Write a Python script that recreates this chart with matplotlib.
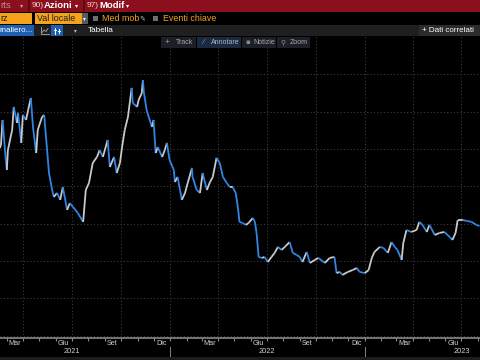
import matplotlib
matplotlib.use("Agg")
import numpy as np
import pandas as pd
import matplotlib.pyplot as plt
import matplotlib.dates as mdates
import matplotlib.transforms as mtransforms
from matplotlib.collections import LineCollection
from matplotlib.lines import Line2D
from matplotlib.patches import Rectangle

dates = [
    "2021-02-16", "2021-02-18", "2021-02-21", "2021-02-26", "2021-03-01", "2021-03-03",
    "2021-03-11", "2021-03-14", "2021-03-20", "2021-03-22", "2021-03-28", "2021-03-31",
    "2021-04-06", "2021-04-10", "2021-04-15", "2021-04-19", "2021-04-25", "2021-04-28",
    "2021-05-06", "2021-05-10", "2021-05-15", "2021-05-19", "2021-05-25", "2021-05-28",
    "2021-06-03", "2021-06-09", "2021-06-14", "2021-06-22", "2021-06-27", "2021-07-03",
    "2021-07-12", "2021-07-22", "2021-07-27", "2021-08-02", "2021-08-09", "2021-08-17",
    "2021-08-22", "2021-08-28", "2021-09-06", "2021-09-10", "2021-09-18", "2021-09-23",
    "2021-09-29", "2021-10-03", "2021-10-08", "2021-10-14", "2021-10-21", "2021-10-23",
    "2021-10-31", "2021-11-03", "2021-11-09", "2021-11-11", "2021-11-13", "2021-11-18",
    "2021-11-22", "2021-11-28", "2021-12-01", "2021-12-05", "2021-12-09", "2021-12-17",
    "2021-12-22", "2021-12-26", "2021-12-31", "2022-01-08", "2022-01-10", "2022-01-15",
    "2022-01-23", "2022-01-29", "2022-02-03", "2022-02-11", "2022-02-12", "2022-02-20",
    "2022-02-26", "2022-03-03", "2022-03-11", "2022-03-16", "2022-03-22", "2022-03-29",
    "2022-04-04", "2022-04-10", "2022-04-17", "2022-04-23", "2022-04-28", "2022-05-04",
    "2022-05-08", "2022-05-11", "2022-05-17", "2022-05-23", "2022-05-28", "2022-06-05",
    "2022-06-09", "2022-06-12", "2022-06-16", "2022-06-22", "2022-06-27", "2022-07-03",
    "2022-07-10", "2022-07-16", "2022-07-22", "2022-07-29", "2022-08-04", "2022-08-13",
    "2022-08-19", "2022-08-26", "2022-09-01", "2022-09-06", "2022-09-14", "2022-09-20",
    "2022-09-29", "2022-10-06", "2022-10-18", "2022-10-27", "2022-11-05", "2022-11-09",
    "2022-11-15", "2022-11-20", "2022-11-30", "2022-12-09", "2022-12-17", "2022-12-22",
    "2023-01-01", "2023-01-08", "2023-01-14", "2023-01-19", "2023-01-29", "2023-02-05",
    "2023-02-13", "2023-02-20", "2023-02-26", "2023-03-03", "2023-03-11", "2023-03-14",
    "2023-03-20", "2023-03-29", "2023-04-08", "2023-04-13", "2023-04-19", "2023-04-27",
    "2023-05-02", "2023-05-12", "2023-05-21", "2023-05-30", "2023-06-09", "2023-06-14",
    "2023-06-20", "2023-06-24", "2023-07-03", "2023-07-12", "2023-07-20", "2023-07-29",
    "2023-08-04",
]
prices = [
    20.05, 20.21, 21.55, 19.78, 18.87, 19.94,
    21.02, 22.25, 21.39, 21.93, 20.32, 21.82,
    21.55, 22.09, 22.73, 21.18, 19.78, 21.02,
    21.71, 21.82, 20.10, 18.71, 17.80, 17.43,
    17.64, 17.27, 17.96, 16.73, 17.10, 16.89,
    16.57, 16.09, 17.80, 18.18, 19.25, 19.57,
    19.94, 19.57, 20.48, 19.03, 19.57, 18.71,
    19.25, 20.10, 21.02, 21.71, 23.27, 22.46,
    22.25, 22.62, 23.00, 23.69, 23.00, 22.09,
    21.71, 21.18, 21.55, 19.78, 20.10, 19.57,
    19.94, 20.32, 19.41, 18.87, 18.23, 18.50,
    17.27, 17.64, 18.18, 18.98, 18.50, 17.80,
    17.64, 18.71, 17.80, 18.18, 18.50, 19.52,
    19.25, 18.50, 18.18, 17.96, 17.96, 17.64,
    16.89, 16.09, 16.03, 15.93, 16.03, 16.30,
    16.09, 15.50, 14.21, 14.16, 14.21, 13.94,
    14.21, 14.43, 14.75, 14.59, 14.75, 15.01,
    14.43, 14.32, 14.21, 13.94, 14.48, 13.89,
    14.05, 14.16, 13.89, 14.16, 14.21, 13.35,
    13.41, 13.25, 13.41, 13.51, 13.62, 13.41,
    13.35, 13.51, 14.16, 14.48, 14.75, 14.69,
    14.43, 15.01, 14.75, 14.59, 14.05, 14.96,
    15.66, 15.55, 15.66, 16.09, 15.93, 15.55,
    15.93, 15.39, 15.50, 15.55, 15.28, 15.12,
    15.50, 16.19, 16.19, 16.14, 16.09, 15.93,
    15.87,
]

month_tick_dates = ["2021-03-16", "2021-06-15", "2021-09-15", "2021-12-16", "2022-03-16",
                    "2022-06-15", "2022-09-15", "2022-12-16", "2023-03-16", "2023-06-15"]
month_names = ["Mar", "Giu", "Set", "Dic", "Mar", "Giu", "Set", "Dic", "Mar", "Giu"]
year_dates = ["2021-07-01", "2022-07-01", "2023-07-01"]
year_names = ["2021", "2022", "2023"]
grid_dates = ["2021-04-01", "2021-07-01", "2021-10-01", "2022-01-01", "2022-04-01",
              "2022-07-01", "2022-10-01", "2023-01-01", "2023-04-01", "2023-07-01"]
year_breaks = ["2022-01-01", "2023-01-01"]
price_grid = [10, 12, 14, 16, 18, 20, 22, 24]

plt.rcParams['font.family'] = ['Liberation Sans', 'DejaVu Sans']

W, H = 480, 360
fig = plt.figure(figsize=(4.8, 3.6), dpi=100, facecolor='black')


def box(x, y, w, h, color):
    fig.patches.append(Rectangle((x / W, 1 - (y + h) / H), w / W, h / H,
                                 transform=fig.transFigure, facecolor=color,
                                 edgecolor='none', lw=0))


def txt(x, y, s, color='white', size=6, **kw):
    fig.text(x / W, 1 - y / H, s, color=color, fontsize=size, va='center',
             ha=kw.pop('ha', 'left'), **kw)


def fline(xs, ys, color, lw=0.8):
    fig.lines.append(Line2D([v / W for v in xs], [1 - v / H for v in ys],
                            transform=fig.transFigure, color=color, lw=lw))


# header rows
box(0, 0, 480, 11.5, '#8b0f1c')
box(0, 11.5, 480, 13.5, 'black')
box(0, 25, 480, 11, '#1f1f1f')
box(28, 0, 2, 11.5, '#5e0a13')
box(83, 0, 2, 11.5, '#5e0a13')
txt(0, 5.8, 'rts', color='#c98a92', size=6.8)
txt(20, 5.8, '▾', color='#d9a0a6', size=4.5, family='DejaVu Sans')
txt(32, 5.8, '90)', color='#f0d0d0', size=6)
txt(44, 5.8, 'Azioni', color='white', size=6.8, weight='bold')
txt(75, 5.8, '▾', color='white', size=4.5, family='DejaVu Sans')
txt(87, 5.8, '97)', color='#f0d0d0', size=6)
txt(99, 5.8, 'Modif', color='white', size=6.8, weight='bold')
txt(126, 5.8, '▾', color='white', size=4.5, family='DejaVu Sans')

amber = '#f7a21b'
box(0, 13.5, 32, 10, amber)
txt(0.5, 18.5, 'rz', color='#1a1a1a', size=6.4)
box(35, 13.5, 47, 10, amber)
txt(37, 18.5, 'Val locale', color='#1a1a1a', size=6.4)
box(82, 13.5, 6, 10, '#5a5a5a')
txt(82.8, 18.5, '▾', color='white', size=4, family='DejaVu Sans')
box(93, 16, 5, 5, '#6e6e6e')
txt(102.5, 18.5, 'Med mob', color=amber, size=6.4)
txt(139.5, 18.5, '✎', color='#bdbdbd', size=5, family='DejaVu Sans')
box(153, 16, 5, 5, '#6e6e6e')
txt(163, 18.5, 'Eventi chiave', color=amber, size=6.4)

box(0, 25.5, 34, 10, '#1f5fb0')
txt(0, 30.5, 'rnaliero...', color='white', size=5.8)
# small line-chart icon
fline([41, 41, 49], [27, 34, 34], '#a8a8a8', 0.6)
fline([42, 44, 46, 48], [32.5, 30, 31.5, 28.5], '#a8a8a8', 0.6)
box(51, 25.5, 12, 10, '#1f5fb0')
fline([55, 55], [27.5, 33.5], 'white', 0.7)
fline([59, 59], [28.5, 32.5], 'white', 0.7)
fline([54, 56], [30, 30], 'white', 0.7)
fline([58, 60], [31, 31], 'white', 0.7)
txt(74, 30.5, '▾', color='#bdbdbd', size=4, family='DejaVu Sans')
txt(88, 30.5, 'Tabella', color='white', size=5.9)
box(419, 25.5, 61, 10, '#2c2c2c')
txt(422, 30.5, '+ Dati correlati', color='white', size=5.8)

# main axes
ax = fig.add_axes([0, (H - 338) / H, 1, (338 - 36) / H])
ax.set_facecolor('black')

d = pd.to_datetime(dates)
x = mdates.date2num(d)
y = np.array(prices)
segs = np.stack([np.column_stack([x[:-1], y[:-1]]), np.column_stack([x[1:], y[1:]])], axis=1)
cols = np.where(np.diff(y) >= 0, '#c9c9c9', '#2f86e6')
ax.add_collection(LineCollection(segs, colors=cols, linewidths=1.3, zorder=3))

ax.set_xlim(pd.Timestamp('2021-02-16 05:00'), pd.Timestamp('2023-08-04 19:00'))
ax.set_ylim(9.87, 26.05)

for gd in pd.to_datetime(grid_dates):
    ax.axvline(gd, color='#3c3c3c', lw=0.8, ls=(0, (1, 2)), zorder=1)
for p in price_grid:
    ax.axhline(p, color='#3c3c3c', lw=0.8, ls=(0, (1, 2)), zorder=1)

for s in ['top', 'right', 'left']:
    ax.spines[s].set_visible(False)
ax.spines['bottom'].set_color('#8a8a8a')
ax.spines['bottom'].set_linewidth(1.2)
ax.set_yticks([])

ax.set_xticks(pd.to_datetime(month_tick_dates))
ax.set_xticklabels(month_names)
ax.tick_params(axis='x', which='major', length=0, pad=1.2, labelsize=5.2, labelcolor='#d0d0d0')
ax.set_xticks(pd.date_range('2021-03-01', '2023-08-01', freq='MS'), minor=True)
ax.tick_params(axis='x', which='minor', length=2, width=0.8, color='#8a8a8a', direction='out')

tr = mtransforms.blended_transform_factory(ax.transData, ax.transAxes)
for yd, yn in zip(pd.to_datetime(year_dates), year_names):
    ax.text(yd, -13.5 / 302, yn, transform=tr, color='#d0d0d0', fontsize=5.3,
            ha='center', va='center', clip_on=False)
for yb in pd.to_datetime(year_breaks):
    ax.plot([yb, yb], [-9 / 302, -18 / 302], transform=tr, color='#7a7a7a',
            lw=0.8, clip_on=False)

# in-plot toolbar
box(161, 37, 35, 11, '#1d1f26')
txt(165, 42.5, '+', color='#a8a8a8', size=6)
txt(176, 42.5, 'Track', color='#a8a8a8', size=5)
box(197, 37, 44, 11, '#1a2a40')
txt(202, 42.5, '⁄', color='#a8a8a8', size=5, family='DejaVu Sans')
txt(211, 42.5, 'Annotare', color='#b8b8b8', size=5)
box(242, 37, 34, 11, '#1d1f26')
txt(245, 42.5, '▪', color='#8a8a8a', size=5, family='DejaVu Sans')
txt(253, 42.5, 'Notizie', color='#a8a8a8', size=5)
box(277, 37, 33, 11, '#1d1f26')
txt(280, 42.5, '⚲', color='#8a8a8a', size=5, family='DejaVu Sans')
txt(290, 42.5, 'Zoom', color='#a8a8a8', size=5)

box(0, 357, 480, 3, '#1c1c1c')

fig.savefig('out.png', dpi=100, facecolor='black')
